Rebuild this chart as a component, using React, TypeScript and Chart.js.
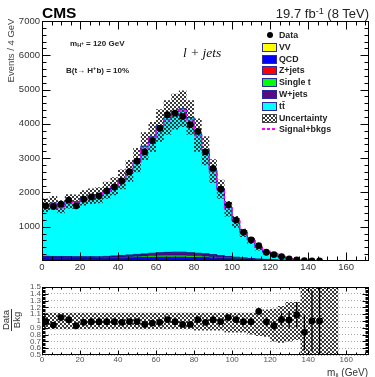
import React, { useEffect, useRef } from "react";
import { Chart, registerables } from "chart.js";

Chart.register(...registerables);

// Dijet mass, 4 GeV bins from 0 to 172 GeV (43 bins)
const BIN_WIDTH = 4;
const X_MIN = 0;
const X_MAX = 172;

// Observed events per bin (bins with data: 0-148 GeV)
const dataCounts = [
  1610, 1590, 1658, 1774, 1609, 1803, 1870, 1899, 2043, 2159, 2333, 2603, 2913,
  3183, 3513, 3870, 4267, 4313, 4217, 3977, 3783, 3183, 2701, 2092, 1638, 1194,
  835, 614, 449, 255, 188, 130, 64, 35, 10, 5, 3,
];

// Expected backgrounds per bin, stacked bottom to top in this order
const vvCounts = [
  2, 2, 2, 2, 2, 2, 2, 2, 2, 2, 2, 2, 2, 2, 2, 2, 2, 2, 2, 2, 2, 2, 2, 2, 2, 2, 2, 2,
  2, 1, 1, 1, 1, 0, 0, 0, 0, 0, 0, 0, 0, 0, 0,
];
const qcdCounts = [
  85, 80, 80, 78, 75, 75, 75, 72, 72, 75, 80, 85, 90, 95, 100, 105, 105, 105, 105,
  100, 95, 90, 80, 70, 60, 50, 40, 30, 25, 20, 15, 10, 8, 5, 3, 2, 1, 1, 1, 0, 0, 0, 0,
];
const zjetsCounts = [
  5, 5, 5, 5, 5, 5, 5, 5, 5, 5, 5, 5, 5, 5, 5, 5, 5, 5, 5, 5, 5, 5, 5, 5, 5, 5, 5, 5,
  4, 3, 3, 2, 2, 1, 1, 0, 0, 0, 0, 0, 0, 0, 0,
];
const singleTopCounts = [
  15, 15, 15, 15, 15, 15, 15, 15, 20, 25, 30, 35, 40, 45, 50, 55, 60, 60, 60, 55, 50,
  45, 40, 30, 25, 20, 15, 12, 10, 8, 5, 4, 3, 2, 1, 1, 0, 0, 0, 0, 0, 0, 0,
];
const wjetsCounts = [
  30, 30, 30, 30, 30, 30, 30, 30, 35, 40, 45, 50, 55, 60, 70, 75, 80, 85, 85, 80, 75,
  70, 60, 50, 40, 35, 30, 25, 20, 15, 10, 8, 5, 3, 2, 1, 1, 1, 0, 0, 0, 0, 0,
];
const ttbarCounts = [
  1489, 1559, 1447, 1609, 1603, 1713, 1762, 1794, 1930, 2034, 2219, 2452, 2750,
  3144, 3395, 3707, 3931, 4100, 4182, 3944, 3482, 3036, 2461, 1956, 1428, 1059,
  751, 546, 333, 211, 168, 102, 44, 21, 5, 1, 1, 0, 0, 0, 0, 0, 0,
];

// Signal (m_H+ = 120 GeV, B = 10%) plus backgrounds
const signalPlusBkg = [
  1600, 1665, 1555, 1712, 1704, 1812, 1860, 1889, 2033, 2148, 2345, 2590, 2898,
  3300, 3568, 3890, 4120, 4292, 4372, 4123, 3653, 3200, 2610, 2085, 1545, 1165,
  850, 640, 415, 275, 212, 132, 65, 32, 12, 5, 3, 2, 1, 0, 0, 0, 0,
];

// Relative systematic uncertainty on the background, up / down
const uncUp = [
  0.12, 0.12, 0.12, 0.12, 0.12, 0.12, 0.12, 0.12, 0.12, 0.12, 0.12, 0.12, 0.12, 0.12,
  0.12, 0.12, 0.12, 0.12, 0.12, 0.12, 0.12, 0.12, 0.12, 0.12, 0.12, 0.12, 0.12, 0.12,
  0.14, 0.17, 0.18, 0.22, 0.28, 0.28, 0.5, 1, 1, 1, 1, 0, 0, 0, 0,
];
const uncDown = [
  0.12, 0.12, 0.12, 0.12, 0.12, 0.12, 0.12, 0.12, 0.12, 0.12, 0.12, 0.12, 0.12, 0.12,
  0.12, 0.12, 0.12, 0.12, 0.12, 0.12, 0.14, 0.14, 0.14, 0.14, 0.17, 0.17, 0.17, 0.2,
  0.22, 0.23, 0.3, 0.32, 0.3, 0.28, 0.6, 1, 1, 1, 1, 0, 0, 0, 0,
];
const BAND_BINS = 39; // band drawn up to 156 GeV

// Axis ticks
const massTicks = [0, 20, 40, 60, 80, 100, 120, 140, 160];
const eventTicks = [1000, 2000, 3000, 4000, 5000, 6000, 7000];
const ratioTicks = [0.5, 0.6, 0.7, 0.8, 0.9, 1, 1.1, 1.2, 1.3, 1.4, 1.5];

const legendRows = [
  { label: "Data", kind: "dot", color: "#000" },
  { label: "VV", kind: "box", color: "#ffff00" },
  { label: "QCD", kind: "box", color: "#0000ff" },
  { label: "Z+jets", kind: "box", color: "#ff0000" },
  { label: "Single t", kind: "box", color: "#00ff00" },
  { label: "W+jets", kind: "box", color: "#5c0a80" },
  { label: "t\u0074\u0304", kind: "box", color: "#00ffff" },
  { label: "Uncertainty", kind: "hatch", color: "#444" },
  { label: "Signal+bkgs", kind: "dash", color: "#ff00ff" },
];

const stackLayers = [
  { counts: vvCounts, color: "#ffff00", line: "#000080", width: 0.7 },
  { counts: qcdCounts, color: "#0000ff", line: "#000080", width: 0.7 },
  { counts: zjetsCounts, color: "#ff0000", line: "#000080", width: 0.7 },
  { counts: singleTopCounts, color: "#00ff00", line: "#000080", width: 0.7 },
  { counts: wjetsCounts, color: "#5c0a80", line: "#000080", width: 0.8 },
  { counts: ttbarCounts, color: "#00ffff", line: "#0000ee", width: 1 },
];

const SANS = "'Liberation Sans', Arial, Helvetica, sans-serif";

const edge = (i: number) => X_MIN + i * BIN_WIDTH;
const center = (i: number) => X_MIN + (i + 0.5) * BIN_WIDTH;

// Step-histogram points: left edge of each bin, plus a closing point
function histPoints(vals: number[], nb: number = vals.length) {
  const pts = vals.slice(0, nb).map((v, i) => ({ x: edge(i), y: v }));
  pts.push({ x: edge(nb), y: vals[nb - 1] });
  return pts;
}

function checkerPattern(ctx: CanvasRenderingContext2D, dark: string) {
  const c = document.createElement("canvas");
  c.width = 4;
  c.height = 4;
  const g = c.getContext("2d")!;
  g.fillStyle = dark;
  g.fillRect(0, 0, 2, 2);
  g.fillRect(2, 2, 2, 2);
  return ctx.createPattern(c, "repeat")!;
}

// Frame with inward major/minor ticks on all four sides
const frameTicks = {
  id: "frameTicks",
  afterDatasetsDraw(chart: any, _args: any, o: any) {
    const { ctx, chartArea: a } = chart;
    const xs = chart.scales.x;
    const ys = chart.scales.y;
    const L = Math.round(a.left) + 0.5;
    const R = Math.round(a.right) - 0.5;
    const T = Math.round(a.top) + 0.5;
    const B = Math.round(a.bottom) - 0.5;
    ctx.save();
    ctx.strokeStyle = "#000";
    ctx.lineWidth = 1;
    ctx.beginPath();
    const nx = Math.floor((o.xMax - o.xMin) / o.xMinor + 1e-6);
    for (let k = 1; k <= nx; k++) {
      const v = o.xMin + k * o.xMinor;
      const len = k % o.xPer === 0 ? o.xLen[0] : o.xLen[1];
      const px = Math.round(xs.getPixelForValue(v)) + 0.5;
      ctx.moveTo(px, B);
      ctx.lineTo(px, B - len);
      ctx.moveTo(px, T);
      ctx.lineTo(px, T + len);
    }
    const ny = Math.floor((o.yMax - o.yMin) / o.yMinor + 1e-6);
    for (let k = 1; k < ny; k++) {
      const v = o.yMin + k * o.yMinor;
      const len = k % o.yPer === 0 ? o.yLen[0] : o.yLen[1];
      const py = Math.round(ys.getPixelForValue(v)) + 0.5;
      ctx.moveTo(L, py);
      ctx.lineTo(L + len, py);
      ctx.moveTo(R, py);
      ctx.lineTo(R - len, py);
    }
    ctx.stroke();
    ctx.strokeRect(L, T, R - L, B - T);
    ctx.restore();
  },
};

const totalBkg = ttbarCounts.map((_, i) =>
  stackLayers.reduce((s, l) => s + l.counts[i], 0)
);

const plainNumber = (v: any) => String(Number(Number(v).toFixed(1)));

function MainPlot() {
  const ref = useRef<HTMLCanvasElement>(null);
  useEffect(() => {
    const ctx = ref.current!.getContext("2d")!;
    const hatch = checkerPattern(ctx, "#3a3a3a");
    const cum: number[][] = [];
    stackLayers.forEach((l, j) => {
      cum.push(l.counts.map((c, i) => c + (j > 0 ? cum[j - 1][i] : 0)));
    });
    const stackSets = stackLayers.map((l, j) => ({
      data: histPoints(cum[j]),
      stepped: true,
      borderColor: l.line,
      borderWidth: l.width,
      backgroundColor: l.color,
      fill: j === 0 ? "origin" : "-1",
      pointRadius: 0,
      order: 3,
    }));
    const chart = new Chart(ctx, {
      type: "line",
      data: {
        datasets: [
          {
            data: dataCounts.map((v, i) => ({ x: center(i), y: v })),
            showLine: false,
            pointRadius: 3.4,
            pointBackgroundColor: "#000",
            pointBorderWidth: 0,
            order: 0,
          },
          {
            data: histPoints(signalPlusBkg),
            stepped: true,
            borderColor: "#ff00ff",
            borderWidth: 1.5,
            borderDash: [3, 2],
            pointRadius: 0,
            fill: false,
            order: 1,
          },
          {
            data: histPoints(totalBkg.map((t, i) => t * (1 - uncDown[i])), BAND_BINS),
            stepped: true,
            borderWidth: 0,
            pointRadius: 0,
            fill: false,
            order: 2,
          },
          {
            data: histPoints(totalBkg.map((t, i) => t * (1 + uncUp[i])), BAND_BINS),
            stepped: true,
            borderWidth: 0,
            pointRadius: 0,
            backgroundColor: hatch,
            fill: "-1",
            order: 2,
          },
          ...stackSets,
        ] as any,
      },
      options: {
        animation: false,
        responsive: false,
        layout: { padding: { left: 0, right: 6, top: 21, bottom: 0 } },
        elements: { line: { tension: 0 } },
        plugins: {
          legend: { display: false },
          tooltip: { enabled: false },
          frameTicks: {
            xMin: X_MIN, xMax: X_MAX, xMinor: 5, xPer: 4, xLen: [8, 4],
            yMin: 0, yMax: 7000, yMinor: 200, yPer: 5, yLen: [8, 4],
          },
        } as any,
        scales: {
          x: {
            type: "linear",
            min: X_MIN,
            max: X_MAX,
            afterFit: (s: any) => { s.height = 14; },
            afterBuildTicks: (s: any) => { s.ticks = massTicks.map((v) => ({ value: v })); },
            grid: { display: false, drawTicks: false },
            border: { display: false },
            ticks: { padding: 1, color: "#333", font: { family: SANS, size: 9.5 }, maxRotation: 0, autoSkip: false, callback: plainNumber },
          },
          y: {
            type: "linear",
            min: 0,
            max: 7000,
            afterFit: (s: any) => { s.width = 42; },
            afterBuildTicks: (s: any) => { s.ticks = eventTicks.map((v) => ({ value: v })); },
            grid: { display: false, drawTicks: false },
            border: { display: false },
            ticks: { padding: 2, color: "#333", font: { family: SANS, size: 9.5 }, autoSkip: false, callback: plainNumber },
          },
        },
      } as any,
      plugins: [frameTicks],
    });
    return () => chart.destroy();
  }, []);
  return (
    <canvas
      ref={ref}
      width={375}
      height={275}
      style={{ position: "absolute", left: 0, top: 0, width: 375, height: 275 }}
    />
  );
}

function RatioPlot() {
  const ref = useRef<HTMLCanvasElement>(null);
  useEffect(() => {
    const ctx = ref.current!.getContext("2d")!;
    const hatch = checkerPattern(ctx, "#3a3a3a");
    const ratio = dataCounts.map((d, i) => d / totalBkg[i]);
    const errBars: { x: number; y: number | null }[] = [];
    dataCounts.forEach((d, i) => {
      const e = Math.sqrt(d) / totalBkg[i];
      errBars.push({ x: center(i), y: ratio[i] - e });
      errBars.push({ x: center(i), y: ratio[i] + e });
      errBars.push({ x: center(i), y: null });
    });
    const chart = new Chart(ctx, {
      type: "line",
      data: {
        datasets: [
          {
            data: ratio.map((r, i) => ({ x: center(i), y: r })),
            showLine: false,
            pointRadius: 3.4,
            pointBackgroundColor: "#000",
            pointBorderWidth: 0,
            order: 0,
          },
          {
            data: errBars,
            borderColor: "#000",
            borderWidth: 1.3,
            pointRadius: 0,
            spanGaps: false,
            fill: false,
            order: 1,
          },
          {
            data: histPoints(uncDown.map((u) => 1 - u), BAND_BINS),
            stepped: true,
            borderWidth: 0,
            pointRadius: 0,
            fill: false,
            order: 2,
          },
          {
            data: histPoints(uncUp.map((u) => 1 + u), BAND_BINS),
            stepped: true,
            borderWidth: 0,
            pointRadius: 0,
            backgroundColor: hatch,
            fill: "-1",
            order: 2,
          },
        ] as any,
      },
      options: {
        animation: false,
        responsive: false,
        layout: { padding: { left: 0, right: 6, top: 12, bottom: 0 } },
        elements: { line: { tension: 0 } },
        plugins: {
          legend: { display: false },
          tooltip: { enabled: false },
          frameTicks: {
            xMin: X_MIN, xMax: X_MAX, xMinor: 5, xPer: 4, xLen: [4, 2],
            yMin: 0.5, yMax: 1.5, yMinor: 0.02, yPer: 5, yLen: [6, 3],
          },
        } as any,
        scales: {
          x: {
            type: "linear",
            min: X_MIN,
            max: X_MAX,
            afterFit: (s: any) => { s.height = 22; },
            afterBuildTicks: (s: any) => { s.ticks = massTicks.map((v) => ({ value: v })); },
            grid: { display: false, drawTicks: false },
            border: { display: false },
            ticks: { padding: 0, color: "#555", font: { family: SANS, size: 8 }, maxRotation: 0, autoSkip: false, callback: plainNumber },
          },
          y: {
            type: "linear",
            min: 0.5,
            max: 1.5,
            afterFit: (s: any) => { s.width = 42; },
            afterBuildTicks: (s: any) => { s.ticks = ratioTicks.map((v) => ({ value: v })); },
            grid: { display: true, drawTicks: false, color: "#a8a8a8", lineWidth: 1 },
            border: { display: false, dash: [1, 2] },
            ticks: {
              padding: 1,
              color: "#555",
              font: { family: SANS, size: 8 },
              autoSkip: false,
              callback: plainNumber,
            },
          },
        },
      } as any,
      plugins: [frameTicks],
    });
    return () => chart.destroy();
  }, []);
  return (
    <canvas
      ref={ref}
      width={375}
      height={102}
      style={{ position: "absolute", left: 0, top: 275, width: 375, height: 102 }}
    />
  );
}

const abs = (x: number, y: number, extra: React.CSSProperties = {}): React.CSSProperties => ({
  position: "absolute",
  left: x,
  top: y,
  transform: "translateY(-50%)",
  whiteSpace: "nowrap",
  lineHeight: 1,
  fontFamily: SANS,
  ...extra,
});

const small: React.CSSProperties = { fontSize: "70%", position: "relative" };

// Vertical label centred on (x, y), reading bottom to top
const rotated = (x: number, y: number, w: number, h: number, extra: React.CSSProperties = {}): React.CSSProperties => ({
  position: "absolute",
  left: x - w / 2,
  top: y - h / 2,
  width: w,
  height: h,
  transform: "rotate(-90deg)",
  transformOrigin: "50% 50%",
  whiteSpace: "nowrap",
  fontFamily: SANS,
  textAlign: "center",
  ...extra,
});

function Legend() {
  return (
    <>
      {legendRows.map((r, i) => {
        const y = 35 + i * 11.8;
        let swatch: React.ReactNode = null;
        if (r.kind === "dot") {
          swatch = (
            <div style={{ position: "absolute", left: 266.5, top: y - 3, width: 6, height: 6, borderRadius: 3, background: r.color }} />
          );
        } else if (r.kind === "box") {
          swatch = (
            <div style={{ position: "absolute", left: 262, top: y - 4, width: 13, height: 7, background: r.color, border: "1px solid #2a2aa0" }} />
          );
        } else if (r.kind === "hatch") {
          swatch = (
            <div
              style={{
                position: "absolute", left: 262, top: y - 4, width: 13, height: 7,
                border: "1px solid #444",
                background: "repeating-conic-gradient(#3a3a3a 0 25%, #ffffff 0 50%) 0 0 / 4px 4px",
              }}
            />
          );
        } else {
          swatch = (
            <div
              style={{
                position: "absolute", left: 262, top: y - 1, width: 15, height: 1.6,
                background: `repeating-linear-gradient(90deg, ${r.color} 0 3px, transparent 3px 5px)`,
              }}
            />
          );
        }
        return (
          <React.Fragment key={r.label}>
            {swatch}
            <div style={abs(279, y, { fontSize: 8.8, fontWeight: "bold", color: "#222" })}>{r.label}</div>
          </React.Fragment>
        );
      })}
    </>
  );
}

export default function App() {
  return (
    <div style={{ position: "fixed", left: 0, top: 0, width: 375, height: 377, background: "#fff", overflow: "hidden" }}>
      <MainPlot />
      <RatioPlot />
      <div style={abs(42, 13, { fontSize: 15.5, fontWeight: "bold", color: "#000" })}>CMS</div>
      <div style={{ ...abs(0, 14, { fontSize: 13, color: "#222" }), left: "auto", right: 6 }}>
        19.7 fb<span style={{ ...small, top: "-0.45em" }}>-1</span> (8 TeV)
      </div>
      <div style={rotated(10, 50.5, 80, 11, { fontSize: 9.5, color: "#444", lineHeight: "11px", textAlign: "center" })}>
        Events / 4 GeV
      </div>
      <div style={abs(70, 43.5, { fontSize: 8, fontWeight: "bold", color: "#222" })}>
        m<span style={{ ...small, top: "0.35em" }}>H<span style={{ position: "relative", top: "-0.6em", fontSize: "80%" }}>+</span></span> = 120 GeV
      </div>
      <div style={abs(66, 71, { fontSize: 8, fontWeight: "bold", color: "#222" })}>
        B(t{"\u2192"} H<span style={{ ...small, top: "-0.45em" }}>+</span>b) = 10%
      </div>
      <div
        style={abs(183, 53, {
          fontFamily: "'Liberation Serif', 'Times New Roman', serif",
          fontStyle: "italic",
          fontSize: 13.5,
          color: "#111",
        })}
      >
        l + jets
      </div>
      <Legend />
      <div style={rotated(12, 320, 30, 22, { fontSize: 9.5, color: "#333", lineHeight: "10px" })}>
        <div style={{ display: "inline-block", borderBottom: "1px solid #333", padding: "0 1px" }}>Data</div>
        <div>Bkg</div>
      </div>
      <div style={{ ...abs(0, 372.5, { fontSize: 10, color: "#333" }), left: "auto", right: 7 }}>
        m<span style={{ ...small, top: "0.3em" }}>jj</span> (GeV)
      </div>
    </div>
  );
}
